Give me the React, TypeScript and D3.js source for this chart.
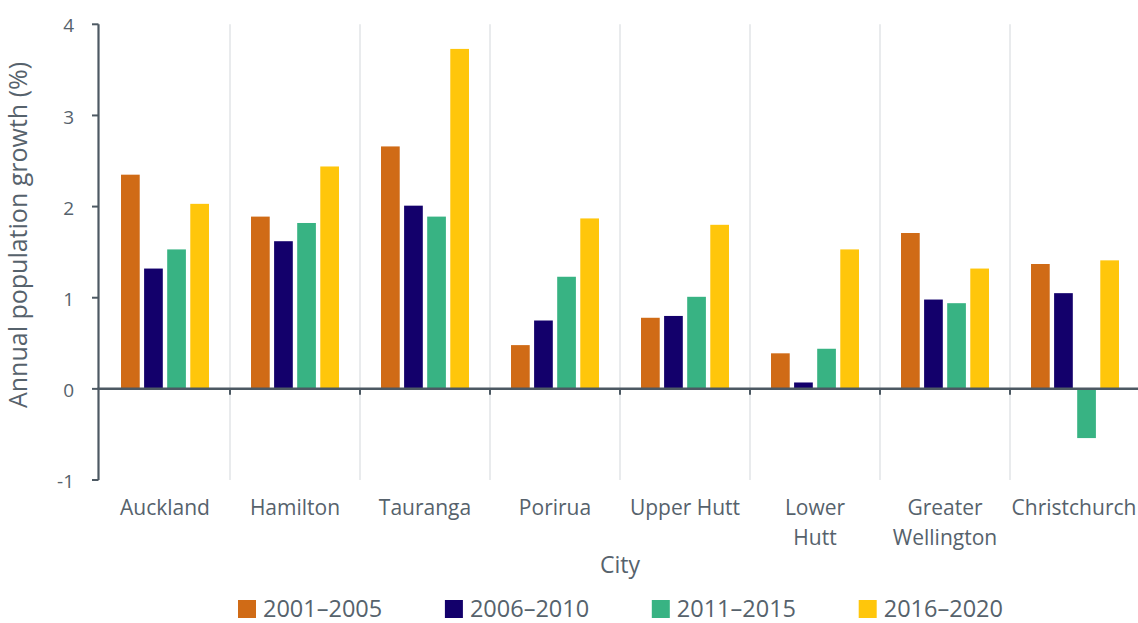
import * as d3 from "d3";

const cities = ["Auckland", "Hamilton", "Tauranga", "Porirua", "Upper Hutt", "Lower Hutt", "Greater Wellington", "Christchurch"];
const cityLines = [["Auckland"], ["Hamilton"], ["Tauranga"], ["Porirua"], ["Upper Hutt"], ["Lower", "Hutt"], ["Greater", "Wellington"], ["Christchurch"]];
const periods = ["2001–2005", "2006–2010", "2011–2015", "2016–2020"];
const growth2001 = [2.35, 1.89, 2.66, 0.48, 0.78, 0.39, 1.71, 1.37];
const growth2006 = [1.32, 1.62, 2.01, 0.75, 0.8, 0.07, 0.98, 1.05];
const growth2011 = [1.53, 1.82, 1.89, 1.23, 1.01, 0.44, 0.94, -0.54];
const growth2016 = [2.03, 2.44, 3.73, 1.87, 1.8, 1.53, 1.32, 1.41];
const yTicks = [-1, 0, 1, 2, 3, 4];
const colors = ["#d06b16", "#13006b", "#38b383", "#ffc60b"];

const series = [growth2001, growth2006, growth2011, growth2016];

const W = 1138,
  H = 623;
const FONT = "'Open Sans', 'DejaVu Sans', sans-serif";
const TEXT = "#56626c";
const AXIS = "#4d5963";
const GRID = "#e9ebed";

export default function App() {
  const x0 = d3.scaleBand<string>().domain(cities).range([100, 1140]).padding(0);
  const x1 = d3.scaleBand<string>().domain(periods).range([0, x0.bandwidth()]).paddingInner(0.19).paddingOuter(0.91);
  const y = d3.scaleLinear().domain([-1, 4]).range([480, 24.3]);
  const y0 = y(0);

  return (
    <svg width={W} height={H} style={{ position: "absolute", left: 0, top: 0, background: "#fff" }} fontFamily={FONT}>
      {/* vertical separators between cities */}
      {cities.map((c) => (
        <line key={c} x1={x0(c)! + x0.bandwidth()} x2={x0(c)! + x0.bandwidth()} y1={y(4)} y2={y(-1)} stroke={GRID} strokeWidth={2} />
      ))}

      {/* bars */}
      {series.map((vals, si) =>
        vals.map((v, ci) => (
          <rect
            key={`${si}-${ci}`}
            x={x0(cities[ci])! + x1(periods[si])!}
            width={x1.bandwidth()}
            y={Math.min(y(v), y0)}
            height={Math.abs(y(v) - y0)}
            fill={colors[si]}
          />
        ))
      )}

      {/* y axis */}
      <line x1={98.5} x2={98.5} y1={y(4)} y2={y(-1)} stroke={AXIS} strokeWidth={2.2} />
      {yTicks.map((t) => (
        <g key={t}>
          <line x1={92} x2={98.5} y1={y(t)} y2={y(t)} stroke={AXIS} strokeWidth={2} />
          <text x={74} y={y(t) + 1.5} dy="0.35em" textAnchor="end" fontSize={19} fill={TEXT}>
            {t}
          </text>
        </g>
      ))}

      {/* zero line with category ticks */}
      <line x1={97.5} x2={1140} y1={y0} y2={y0} stroke={AXIS} strokeWidth={2.5} />
      {cities.map((c) => (
        <line key={c} x1={x0(c)! + x0.bandwidth()} x2={x0(c)! + x0.bandwidth()} y1={y0} y2={y0 + 6} stroke={AXIS} strokeWidth={2} />
      ))}

      {/* category labels */}
      {cities.map((c, i) => {
        const cx = Math.min(x0(c)! + x0.bandwidth() / 2, 1074);
        return (
          <text key={c} x={cx} y={515} textAnchor="middle" fontSize={21} fill={TEXT}>
            {cityLines[i].map((ln, j) => (
              <tspan key={j} x={cx} dy={j === 0 ? 0 : 30}>
                {ln}
              </tspan>
            ))}
          </text>
        );
      })}

      <text x={620} y={573} textAnchor="middle" fontSize={23} fill={TEXT}>
        City
      </text>
      <text transform={`translate(27,235) rotate(-90)`} textAnchor="middle" fontSize={25} fill={TEXT}>
        Annual population growth (%)
      </text>

      {/* legend */}
      {periods.map((p, i) => (
        <g key={p} transform={`translate(${238 + i * 206.9},600)`}>
          <rect x={0} y={0} width={18} height={18} fill={colors[i]} />
          <text x={25} y={17} fontSize={23.5} fill={TEXT}>
            {p}
          </text>
        </g>
      ))}
    </svg>
  );
}
